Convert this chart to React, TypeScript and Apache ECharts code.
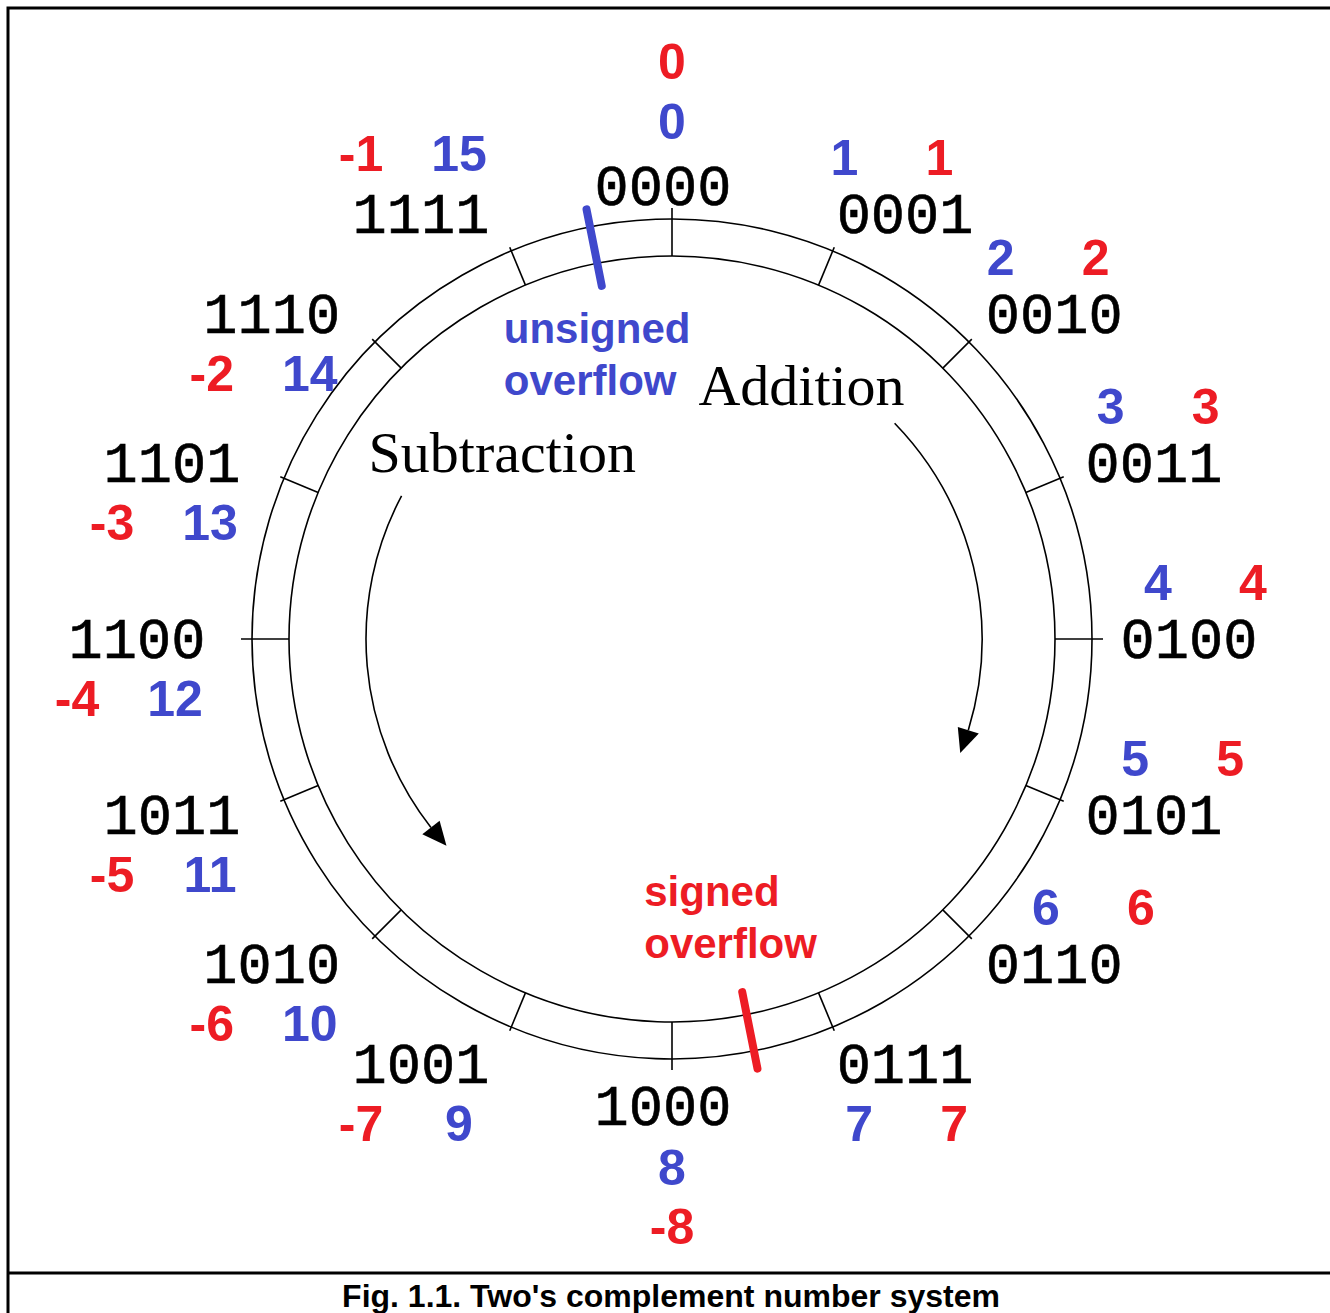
import React, { useEffect, useRef } from 'react';
import * as echarts from 'echarts';

// ---- data ----
const binaryCodes = ['0000', '0001', '0010', '0011', '0100', '0101', '0110', '0111',
  '1000', '1001', '1010', '1011', '1100', '1101', '1110', '1111'];
const unsignedValues = [0, 1, 2, 3, 4, 5, 6, 7, 8, 9, 10, 11, 12, 13, 14, 15];
const signedValues = [0, 1, 2, 3, 4, 5, 6, 7, -8, -7, -6, -5, -4, -3, -2, -1];
const overflowPositions = [15.5, 7.5];
const overflowLabels = ['unsigned\noverflow', 'signed\noverflow'];
const arrowNames = ['Addition', 'Subtraction'];
const arrowFrom = [2.04, 13.24];
const arrowTo = [4.76, 10.31];
const caption = "Fig. 1.1. Two's complement number system";

// ---- style / layout ----
const BLUE = '#3F48CC';
const RED = '#ED1C24';
const CENTER = [672, 639];
const RING_OUTER = 420;
const RING_INNER = 383;
const TICK_SHORT = 424;
const TICK_LONG = 431;
const LABEL_R = 460;
const LABEL_SHIFT_X = -9;
const CODE_HALF = 66;
const MARK_IN = 360;
const MARK_OUT = 438;
const ARROW_R = [310, 306];

const CODE_FONT = '57px "Liberation Mono", "Courier New", monospace';
const NUM_FONT = 'bold 50px "Liberation Sans", Arial, sans-serif';
const NOTE_FONT = 'bold 42px "Liberation Sans", Arial, sans-serif';
const SERIF_FONT = '58px "Liberation Serif", "Times New Roman", serif';

function numText(text: string, color: string, x: number, y: number) {
  return {
    type: 'text', x, y,
    style: { text, fill: color, font: NUM_FONT, align: 'center', verticalAlign: 'middle' },
  };
}

function renderCode(_params: any, api: any) {
  const i = api.value(1);
  const n = binaryCodes.length;
  const rad = (i * 360 / n) * Math.PI / 180;
  const s = Math.sin(rad);
  const c = Math.cos(rad);
  const t1 = api.coord([RING_INNER, i]);
  const t2 = api.coord([i % 4 === 0 ? TICK_LONG : TICK_SHORT, i]);
  const a = api.coord([LABEL_R, i]);
  const side = Math.abs(s) < 1e-6 ? 0 : s > 0 ? 1 : -1;
  const bx = a[0] + LABEL_SHIFT_X + side * CODE_HALF;
  const gy = a[1] + (side === 0 ? 7 : 0);
  const children: any[] = [
    { type: 'line', shape: { x1: t1[0], y1: t1[1], x2: t2[0], y2: t2[1] }, style: { stroke: '#000', lineWidth: 1.6 } },
    {
      type: 'text', x: bx, y: gy + 4,
      style: { text: binaryCodes[i], fill: '#000', stroke: '#000', lineWidth: 0.6, font: CODE_FONT, align: 'center', verticalAlign: 'middle' },
    },
  ];
  const u = String(unsignedValues[i]);
  const sg = String(signedValues[i]);
  if (side === 0) {
    const top = c > 0;
    children.push(numText(u, BLUE, bx + 9, top ? gy - 64 : gy + 62));
    children.push(numText(sg, RED, bx + 9, top ? gy - 124 : gy + 121));
  } else if (side > 0) {
    const above = c > -0.9;
    const ny = above ? gy - 56 : gy + 60;
    const blueX = above ? bx - 31 - 32 * c : bx - 46;
    children.push(numText(u, BLUE, blueX, ny));
    children.push(numText(sg, RED, blueX + 95, ny));
  } else {
    const above = c > 0.9;
    const ny = above ? gy - 60 : gy + 60;
    children.push(numText(sg, RED, bx - 60, ny));
    children.push(numText(u, BLUE, bx + 38, ny));
  }
  return { type: 'group', children };
}

function renderOverflow(params: any, api: any) {
  const k = params.dataIndex;
  const pos = api.value(1);
  const color = k === 0 ? BLUE : RED;
  const p1 = api.coord([MARK_IN, pos]);
  const p2 = api.coord([MARK_OUT, pos]);
  const cen = api.coord([0, 0]);
  const dir = cen[1] > p1[1] ? 1 : -1;
  return {
    type: 'group',
    children: [
      { type: 'line', shape: { x1: p1[0], y1: p1[1], x2: p2[0], y2: p2[1] }, style: { stroke: color, lineWidth: 8, lineCap: 'round' } },
      {
        type: 'text', x: p1[0] - 98, y: p1[1] + dir * 72 - 3,
        style: { text: overflowLabels[k], fill: color, font: NOTE_FONT, lineHeight: 52, align: 'left', verticalAlign: 'middle' },
      },
    ],
  };
}

function renderArrow(params: any, api: any) {
  const k = params.dataIndex;
  const from = api.value(1);
  const to = arrowTo[k];
  const r = ARROW_R[k];
  const n = binaryCodes.length;
  const cen = api.coord([0, 0]);
  const clockwise = to > from;
  const toScreen = (v: number) => ((v * 360 / n) - 90) * Math.PI / 180;
  const start = api.coord([r, from]);
  const base = api.coord([r, to]);
  const tip = api.coord([r, to + (clockwise ? 0.2 : -0.2)]);
  const ux = (base[0] - cen[0]) / r;
  const uy = (base[1] - cen[1]) / r;
  const hw = 11;
  const label = clockwise
    ? { x: start[0] + 10, y: start[1] - 38, align: 'right' }
    : { x: start[0] - 33, y: start[1] - 43, align: 'left' };
  return {
    type: 'group',
    children: [
      {
        type: 'arc',
        shape: { cx: cen[0], cy: cen[1], r, startAngle: toScreen(from), endAngle: toScreen(to), clockwise },
        style: { stroke: '#000', lineWidth: 1.6, fill: 'none' },
      },
      {
        type: 'polygon',
        shape: { points: [[base[0] + ux * hw, base[1] + uy * hw], [base[0] - ux * hw, base[1] - uy * hw], tip] },
        style: { fill: '#000' },
      },
      {
        type: 'text', x: label.x, y: label.y,
        style: { text: arrowNames[k], fill: '#000', font: SERIF_FONT, align: label.align, verticalAlign: 'middle' },
      },
    ],
  };
}

export default function App() {
  const ref = useRef<HTMLDivElement>(null);
  useEffect(() => {
    if (!ref.current) return;
    const chart = echarts.init(ref.current, null, { renderer: 'svg' });
    const axisCommon = {
      type: 'value', min: 0, max: 16, interval: 1, startAngle: 90, clockwise: true,
      axisLine: { show: true, lineStyle: { color: '#000', width: 1.6 } },
      axisTick: { show: false }, axisLabel: { show: false }, splitLine: { show: false },
    };
    const option: any = {
      animation: false,
      backgroundColor: '#ffffff',
      polar: [
        { center: CENTER, radius: [0, RING_OUTER] },
        { center: CENTER, radius: [0, RING_INNER] },
      ],
      angleAxis: [
        { ...axisCommon, polarIndex: 0 },
        { ...axisCommon, polarIndex: 1 },
      ],
      radiusAxis: [
        { polarIndex: 0, type: 'value', min: 0, max: RING_OUTER, show: false },
        { polarIndex: 1, type: 'value', min: 0, max: RING_INNER, show: false },
      ],
      series: [
        {
          type: 'custom', coordinateSystem: 'polar', polarIndex: 0,
          data: binaryCodes.map((_, i) => [0, i]),
          renderItem: renderCode,
        },
        {
          type: 'custom', coordinateSystem: 'polar', polarIndex: 0,
          data: overflowPositions.map((p) => [0, p]),
          renderItem: renderOverflow,
        },
        {
          type: 'custom', coordinateSystem: 'polar', polarIndex: 0,
          data: arrowFrom.map((p) => [0, p]),
          renderItem: renderArrow,
        },
      ],
      graphic: [
        { type: 'rect', shape: { x: 8, y: 8, width: 1400, height: 1400 }, style: { fill: 'none', stroke: '#000', lineWidth: 3 } },
        { type: 'line', shape: { x1: 8, y1: 1273, x2: 1330, y2: 1273 }, style: { stroke: '#000', lineWidth: 3 } },
        {
          type: 'text', x: 671, y: 1296,
          style: { text: caption, fill: '#000', font: 'bold 32px "Liberation Sans", Arial, sans-serif', align: 'center', verticalAlign: 'middle' },
        },
      ],
    };
    chart.setOption(option);
    return () => chart.dispose();
  }, []);
  return <div ref={ref} style={{ position: 'absolute', left: 0, top: 0, width: 1330, height: 1313 }} />;
}
